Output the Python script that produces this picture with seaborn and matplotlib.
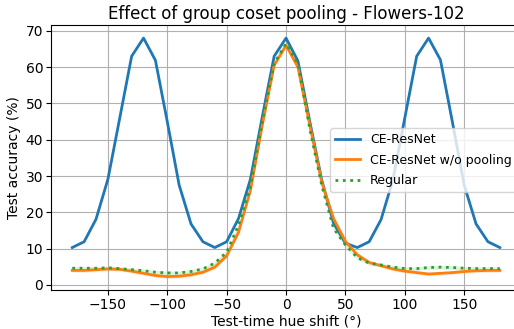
import numpy as np
import pandas as pd
import matplotlib
matplotlib.use("Agg")
import matplotlib.pyplot as plt
import seaborn as sns

# hue shift values (degrees)
shift = list(range(-180, 181, 10))

ce_resnet = [10.3, 11.9, 18.1, 29.1, 46.0, 63.0, 68.0, 61.9, 45.0, 27.5,
             16.8, 11.9, 10.3, 11.9, 18.3, 29.1, 46.3, 63.0, 68.0, 61.7,
             45.0, 29.0, 17.0, 11.5, 10.3, 11.9, 18.0, 29.0, 46.0, 63.0,
             68.0, 62.0, 45.0, 27.5, 16.8, 11.9, 10.3]
ce_no_pool = [4.0, 4.0, 4.2, 4.4, 4.3, 3.8, 3.2, 2.6, 2.3, 2.4,
              2.8, 3.5, 4.9, 8.0, 14.5, 26.0, 44.0, 60.5, 66.0, 60.0,
              44.0, 28.4, 18.3, 12.0, 8.3, 6.2, 5.3, 4.4, 3.8, 3.4,
              3.0, 3.2, 3.4, 3.7, 3.9, 4.0, 4.0]
regular = [4.6, 4.6, 4.6, 4.7, 4.5, 4.2, 3.9, 3.5, 3.3, 3.3,
           3.7, 4.4, 6.0, 9.0, 16.5, 27.0, 45.0, 61.0, 66.5, 61.0,
           43.0, 27.5, 15.6, 11.0, 7.5, 6.0, 5.5, 4.9, 4.5, 4.5,
           4.8, 4.9, 4.8, 4.6, 4.5, 4.5, 4.5]

df = pd.DataFrame({"shift": shift, "CE-ResNet": ce_resnet,
                   "CE-ResNet w/o pooling": ce_no_pool, "Regular": regular})

fig = plt.figure(figsize=(5.14, 3.29), dpi=100)
ax = fig.add_axes([0.099, 0.1185, 0.915, 0.8055])

sns.lineplot(data=df, x="shift", y="CE-ResNet", ax=ax, color="#1f77b4", lw=2, label="CE-ResNet")
sns.lineplot(data=df, x="shift", y="CE-ResNet w/o pooling", ax=ax, color="#ff7f0e", lw=2,
             label="CE-ResNet w/o pooling")
sns.lineplot(data=df, x="shift", y="Regular", ax=ax, color="#2ca02c", lw=2, ls=":", label="Regular")

# faint error bands
for col, c in [("CE-ResNet w/o pooling", "#ff7f0e"), ("Regular", "#2ca02c")]:
    ax.fill_between(df["shift"], df[col] - 0.5, df[col] + 0.5, color=c, alpha=0.15, lw=0)

ax.set_xlim(-198, 198)
ax.set_ylim(-1.4, 71.6)
ax.set_xticks([-150, -100, -50, 0, 50, 100, 150])
ax.set_yticks(range(0, 71, 10))
ax.tick_params(pad=2)
ax.grid(True, color="#b0b0b0", lw=0.8)
ax.set_axisbelow(True)
ax.set_title("Effect of group coset pooling - Flowers-102", fontsize=12, pad=4)
ax.set_xlabel("Test-time hue shift (°)", labelpad=2)
ax.set_ylabel("Test accuracy (%)", labelpad=3)
ax.legend(loc="upper left", bbox_to_anchor=(0.630, 0.629), bbox_transform=fig.transFigure,
          fontsize=9, labelspacing=0.6)

fig.savefig("out.png", dpi=100)
